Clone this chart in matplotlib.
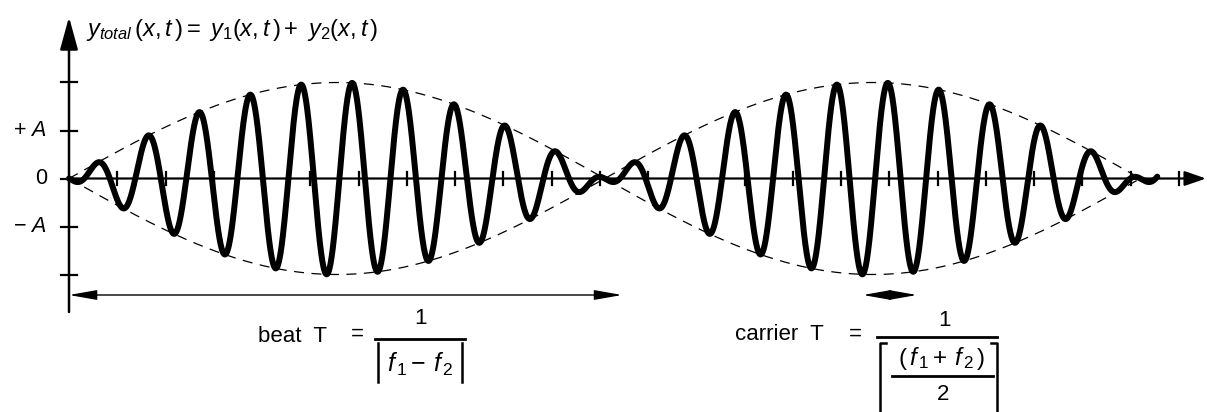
import numpy as np
import matplotlib.pyplot as plt

plt.rcParams['font.family'] = ['Liberation Sans', 'DejaVu Sans']
plt.rcParams['mathtext.fontset'] = 'custom'
plt.rcParams['mathtext.rm'] = 'Liberation Sans'
plt.rcParams['mathtext.it'] = 'Liberation Sans:italic'
plt.rcParams['mathtext.bf'] = 'Liberation Sans:bold'

# values (x in tick units, y in units of A)
beat_period = 11.1          # node to node
carrier_cycles = 10.5       # carrier cycles inside one beat
carrier_phase = -0.55       # fraction of a cycle
amp_max = 2.0               # envelope maximum = 2A
x_ticks = list(range(1, 24))
y_ticks = [-2, -1, 0, 1, 2]
y_labels = {1: '+ $A$', 0: '0', -1: '− $A$'}
beat_arrow = (0.0, 11.46)
carrier_arrow = (16.45, 17.57)

carrier_period = beat_period / carrier_cycles
x = np.linspace(0, 2 * beat_period + 0.35, 4000)
env = amp_max * np.sin(np.pi * x / beat_period)
y = env * np.cos(2 * np.pi * (x / carrier_period + carrier_phase))

W, H = 1207, 412
x0, y0, sx, sy = 69, 178.5, 48.26, 48.0

fig = plt.figure(figsize=(W / 100, H / 100), dpi=100)
ax = fig.add_axes([0, 0, 1, 1])
ax.set_xlim(-x0 / sx, (W - x0) / sx)
ax.set_ylim((y0 - H) / sy, y0 / sy)
ax.axis('off')

def fpx(px, py):
    return px / W, 1 - py / H

# dashed envelope
xe = x[x <= 2 * beat_period]
ax.plot(xe, amp_max * np.sin(np.pi * xe / beat_period), color='black', lw=0.9, dashes=(8, 6))
ax.plot(xe, -amp_max * np.sin(np.pi * xe / beat_period), color='black', lw=0.9, dashes=(8, 6))

# axes lines with arrow heads
ax.annotate('', xy=((1206 - x0) / sx, 0), xytext=(0, 0),
            arrowprops=dict(arrowstyle='-|>,head_length=1.3,head_width=0.45', color='black', lw=1.6,
                            shrinkA=0, shrinkB=0))
ax.annotate('', xy=(0, (y0 - 17) / sy), xytext=(0, (y0 - 312) / sy),
            arrowprops=dict(arrowstyle='-|>,head_length=2.0,head_width=0.55', color='black', lw=1.8,
                            shrinkA=0, shrinkB=0))

for t in x_ticks:
    ax.plot([t, t], [-6.5 / sy, 6.5 / sy], color='black', lw=1.6)
for t in y_ticks:
    ax.plot([-8 / sx, 8 / sx], [t, t], color='black', lw=1.6)
for t, lab in y_labels.items():
    ax.text(-22 / sx, t, lab, ha='right', va='center', fontsize=15.5)

ax.plot(x, y, color='black', lw=4.3, solid_capstyle='round', solid_joinstyle='round')

# period arrows
ya = (y0 - 295) / sy
ax.annotate('', xy=(beat_arrow[1], ya), xytext=(beat_arrow[0], ya),
            arrowprops=dict(arrowstyle='<|-|>,head_length=1.7,head_width=0.3', color='black', lw=1.0,
                            shrinkA=0, shrinkB=0))
ax.annotate('', xy=(carrier_arrow[1], ya), xytext=(carrier_arrow[0], ya),
            arrowprops=dict(arrowstyle='<|-|>,head_length=1.7,head_width=0.3', color='black', lw=1.0,
                            shrinkA=0, shrinkB=0))

# title formula
fig.text(*fpx(86, 30), r'$y_{\mathit{total}}\,(x,t\,) = \ y_1(x,t\,) + \ y_2(x,t\,)$',
         ha='left', va='center', fontsize=17)

# beat period formula
fs = 16
fig.text(*fpx(258, 337), 'beat  T', ha='left', va='center', fontsize=fs)
fig.text(*fpx(357, 334), '=', ha='center', va='center', fontsize=fs)
fig.text(*fpx(420, 318), '1', ha='center', va='center', fontsize=fs)
fig.add_artist(plt.Line2D([375 / W, 465 / W], [1 - 339 / H, 1 - 339 / H], color='black', lw=2))
for bx in (378, 462):
    fig.add_artist(plt.Line2D([bx / W, bx / W], [1 - 343 / H, 1 - 382 / H], color='black', lw=1.8))
fig.text(*fpx(420, 364), r'$f_{\,1}-\,f_{\,2}$', ha='center', va='center', fontsize=18)

# carrier period formula
fig.text(*fpx(735, 335), 'carrier  T', ha='left', va='center', fontsize=fs)
fig.text(*fpx(855, 334), '=', ha='center', va='center', fontsize=fs)
fig.text(*fpx(945, 320), '1', ha='center', va='center', fontsize=fs)
fig.add_artist(plt.Line2D([877 / W, 997 / W], [1 - 337 / H, 1 - 337 / H], color='black', lw=2))
fig.add_artist(plt.Line2D([886 / W, 880 / W, 880 / W], [1 - 343 / H, 1 - 343 / H, 0], color='black', lw=1.8))
fig.add_artist(plt.Line2D([991 / W, 997 / W, 997 / W], [1 - 343 / H, 1 - 343 / H, 0], color='black', lw=1.8))
fig.text(*fpx(942, 358), r'$(\,f_{\,1}+\,f_{\,2}\,)$', ha='center', va='center', fontsize=17.5)
fig.add_artist(plt.Line2D([892 / W, 993 / W], [1 - 376 / H, 1 - 376 / H], color='black', lw=2))
fig.text(*fpx(943, 395), '2', ha='center', va='center', fontsize=fs)

fig.savefig('out.png', dpi=100)
